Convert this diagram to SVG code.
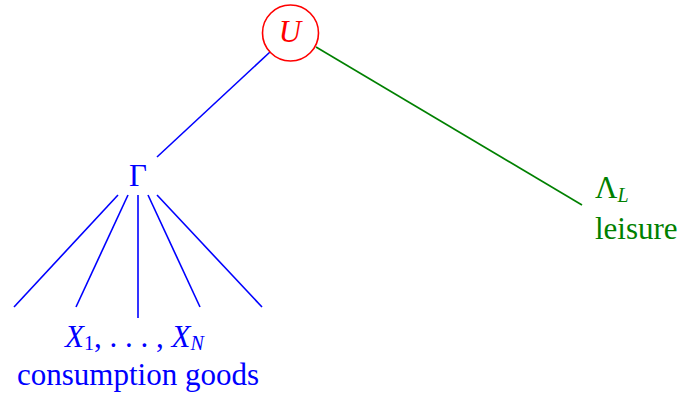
<svg xmlns="http://www.w3.org/2000/svg" width="678" height="398" viewBox="0 0 678 398">
<style>
text{font-family:"Liberation Serif","Times New Roman",serif;font-size:31px}
.b{fill:#0000ff}.g{fill:#008000}.r{fill:#ff0000}
.it{font-style:italic}
.sub{font-size:20px}
.lb{stroke:#0000ff;stroke-width:1.6;fill:none}
.lg{stroke:#008000;stroke-width:1.6;fill:none}
</style>
<rect width="678" height="398" fill="#fff"/>
<g id="connectors">
<line class="lb" x1="270" y1="52" x2="157" y2="157"/>
<line class="lg" x1="316" y1="47" x2="582" y2="205"/>
<line class="lb" x1="118" y1="195" x2="14" y2="307"/>
<line class="lb" x1="128" y1="195" x2="76" y2="307"/>
<line class="lb" x1="138" y1="195" x2="138" y2="318"/>
<line class="lb" x1="148" y1="195" x2="200" y2="307"/>
<line class="lb" x1="157" y1="195" x2="262" y2="307"/>
</g>
<g id="U">
<circle cx="290.5" cy="33" r="28" fill="none" stroke="#ff0000" stroke-width="1.6"/>
<text class="r it" x="290" y="42" text-anchor="middle">U</text>
</g>
<g id="Gamma">
<text class="b" x="138" y="186" text-anchor="middle">Γ</text>
</g>
<g id="goods">
<text class="b" x="65" y="347"><tspan class="it">X</tspan><tspan class="sub" dy="3">1</tspan><tspan dy="-3">, . . . , </tspan><tspan class="it">X</tspan><tspan class="sub it" dy="3">N</tspan></text>
<text class="b" x="138" y="385" text-anchor="middle">consumption goods</text>
</g>
<g id="leisure">
<text class="g" x="595" y="198">Λ<tspan class="sub it" dy="4">L</tspan></text>
<text class="g" x="595" y="239">leisure</text>
</g>
</svg>
